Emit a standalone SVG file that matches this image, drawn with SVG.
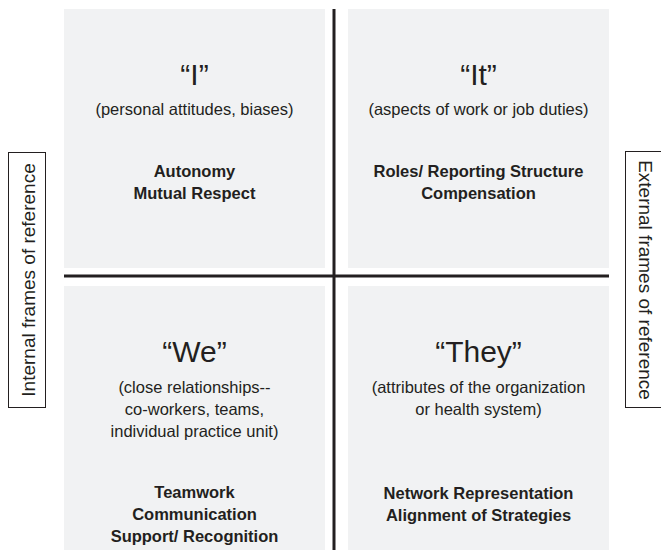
<svg xmlns="http://www.w3.org/2000/svg" width="661" height="550" viewBox="0 0 661 550">
  <style>
    .quad { fill: #f1f2f3; }
    .axis { stroke: #231f20; stroke-width: 3; fill: none; }
    .frame { fill: #ffffff; stroke: #231f20; stroke-width: 1; }
    text { font-family: "Liberation Sans", Arial, Helvetica, sans-serif; fill: #231f20; text-anchor: middle; }
    .big { font-size: 30px; }
    .sub { font-size: 16.5px; }
    .key { font-size: 16.5px; font-weight: bold; }
    .side { font-size: 19px; }
  </style>

  <rect width="661" height="550" fill="#ffffff"/>

  <!-- top-left quadrant -->
  <g id="quad-i">
    <rect class="quad" x="64" y="9" width="261" height="259"/>
    <text class="big" x="194.5" y="85">“I”</text>
    <text class="sub" x="194.5" y="115">(personal attitudes, biases)</text>
    <text class="key" x="194.5" y="177">Autonomy</text>
    <text class="key" x="194.5" y="199">Mutual Respect</text>
  </g>

  <!-- top-right quadrant -->
  <g id="quad-it">
    <rect class="quad" x="348" y="9" width="261" height="259"/>
    <text class="big" x="478.5" y="85">“It”</text>
    <text class="sub" x="478.5" y="115">(aspects of work or job duties)</text>
    <text class="key" x="478.5" y="177">Roles/ Reporting Structure</text>
    <text class="key" x="478.5" y="199">Compensation</text>
  </g>

  <!-- bottom-left quadrant -->
  <g id="quad-we">
    <rect class="quad" x="64" y="286" width="261" height="264"/>
    <text class="big" x="194.5" y="362">“We”</text>
    <text class="sub" x="194.5" y="393">(close relationships--</text>
    <text class="sub" x="194.5" y="415">co-workers, teams,</text>
    <text class="sub" x="194.5" y="437">individual practice unit)</text>
    <text class="key" x="194.5" y="498">Teamwork</text>
    <text class="key" x="194.5" y="520">Communication</text>
    <text class="key" x="194.5" y="542">Support/ Recognition</text>
  </g>

  <!-- bottom-right quadrant -->
  <g id="quad-they">
    <rect class="quad" x="348" y="286" width="261" height="264"/>
    <text class="big" x="478.5" y="362">“They”</text>
    <text class="sub" x="478.5" y="393">(attributes of the organization</text>
    <text class="sub" x="478.5" y="415">or health system)</text>
    <text class="key" x="478.5" y="499">Network Representation</text>
    <text class="key" x="478.5" y="521">Alignment of Strategies</text>
  </g>

  <!-- side labels -->
  <g id="label-internal">
    <rect class="frame" x="8.5" y="152.5" width="37" height="255"/>
    <text class="side" transform="translate(34.5 280) rotate(-90)">Internal frames of reference</text>
  </g>
  <g id="label-external">
    <rect class="frame" x="625.5" y="151.5" width="45" height="256"/>
    <text class="side" transform="translate(639 280) rotate(90)">External frames of reference</text>
  </g>

  <!-- axes dividing the quadrants -->
  <g id="connectors">
    <line class="axis" x1="334" y1="9" x2="334" y2="550"/>
    <line class="axis" x1="64" y1="276" x2="609" y2="276"/>
  </g>
</svg>
